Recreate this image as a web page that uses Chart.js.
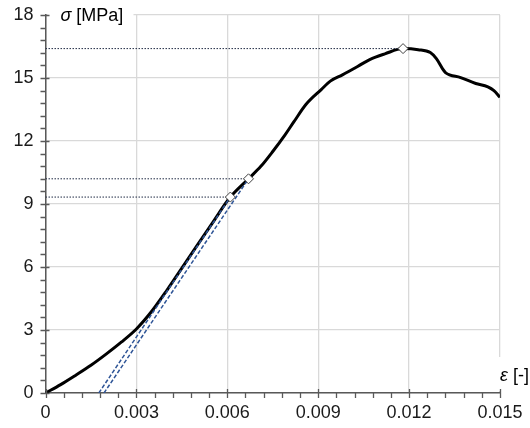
<!DOCTYPE html>
<html>
<head>
<meta charset="utf-8">
<script src="https://cdn.jsdelivr.net/npm/chart.js@4.4.4/dist/chart.umd.min.js"></script>
<style>
  html, body { margin: 0; background: #fff; }
  #wrap { width: 530px; height: 428px; }
</style>
</head>
<body>
<div id="wrap"><canvas id="chart"></canvas></div>
<script>
// ── Data ───────────────────────────────────────────────────────────────────
const strain = [0, 0.0005, 0.0010, 0.0015, 0.0020, 0.0025, 0.0030, 0.0035, 0.0040,
  0.0045, 0.0050, 0.0055, 0.0061, 0.0067, 0.0071, 0.0075, 0.0079, 0.0082, 0.0086,
  0.0091, 0.0094, 0.0098, 0.0103, 0.0107, 0.0112, 0.0118, 0.0123, 0.0127, 0.0129,
  0.0131, 0.0132, 0.0137, 0.0142, 0.0146, 0.0148, 0.0150];
const stress = [0, 0.40, 0.85, 1.32, 1.85, 2.42, 3.05, 3.88, 4.88,
  5.95, 7.02, 8.08, 9.33, 10.20, 10.78, 11.50, 12.28, 12.92, 13.75,
  14.45, 14.85, 15.15, 15.55, 15.88, 16.15, 16.40, 16.35, 16.21, 15.92,
  15.45, 15.26, 15.02, 14.74, 14.58, 14.40, 14.08];

const markStrain = [0.0061, 0.0067, 0.0118];
const markStress = [9.33, 10.2, 16.4];

// tangent lines: start on the strain axis, end at the first two markers
const tangentStart = [0.00176, 0.00193];

const xMajor = 0.003, xMinor = 0.0006, xMax = 0.015;
const yMajor = 3, yMinor = 0.6, yMax = 18;

const FONT = '"Liberation Sans", Arial, sans-serif';
const SIZE = 18;
const AXIS = '#595959';
const GRID = '#d9d9d9';
const BLUE = '#2f5597';

// ── Datasets ───────────────────────────────────────────────────────────────
const pts = (xs, ys) => xs.map((x, i) => ({ x, y: ys[i] }));

const curve = {
  data: pts(strain, stress), showLine: true, borderColor: '#000', borderWidth: 3,
  pointRadius: 0, cubicInterpolationMode: 'monotone', order: 3,
};

const tangents = tangentStart.map((s, i) => ({
  data: [{ x: s, y: 0 }, { x: markStrain[i], y: markStress[i] }],
  showLine: true, borderColor: BLUE, borderWidth: 1.5, borderDash: [4, 2],
  pointRadius: 0, order: 1,
}));

const guides = markStrain.map((s, i) => ({
  data: [{ x: 0, y: markStress[i] }, { x: s, y: markStress[i] }],
  showLine: true, borderColor: '#1f2a44', borderWidth: 1, borderDash: [1.5, 1.5],
  pointRadius: 0, order: 2,
}));

const markers = {
  data: pts(markStrain, markStress), showLine: false, pointStyle: 'rectRot',
  pointRadius: 5, backgroundColor: '#fff', borderColor: '#404040', borderWidth: 1,
  order: 0,
};

// ── Plugins ────────────────────────────────────────────────────────────────
// minor/major tick marks (majors cross the axis, minors outside only)
const tickMarks = {
  id: 'tickMarks',
  afterDraw(chart) {
    const { ctx, scales: { x, y } } = chart;
    const ax = x.getPixelForValue(0), ay = y.getPixelForValue(0);
    ctx.save();
    ctx.strokeStyle = AXIS;
    ctx.lineWidth = 1.3;
    ctx.beginPath();
    for (let i = 0; i <= Math.round(yMax / yMinor); i++) {
      const py = Math.round(y.getPixelForValue(i * yMinor)) + 0.5;
      const major = i % Math.round(yMajor / yMinor) === 0;
      ctx.moveTo(ax - 5, py);
      ctx.lineTo(major ? ax + 4 : ax, py);
    }
    for (let i = 0; i <= Math.round(xMax / xMinor); i++) {
      const px = Math.round(x.getPixelForValue(i * xMinor)) + 0.5;
      const major = i % Math.round(xMajor / xMinor) === 0;
      ctx.moveTo(px, ay + 5);
      ctx.lineTo(px, major ? ay - 4 : ay);
    }
    ctx.stroke();
    ctx.restore();
  },
};

// axis titles sitting inside the plot on a white patch
function label(ctx, sym, rest, left, cy) {
  ctx.fillStyle = '#000';
  ctx.textBaseline = 'middle';
  ctx.font = `italic ${SIZE}px ${FONT}`;
  const w1 = ctx.measureText(sym).width;
  ctx.fillText(sym, left, cy);
  ctx.font = `${SIZE}px ${FONT}`;
  ctx.fillText(rest, left + w1, cy);
}

const axisTitles = {
  id: 'axisTitles',
  beforeDatasetsDraw(chart) {
    const { ctx, scales: { x, y } } = chart;
    const ax = x.getPixelForValue(0), ay = y.getPixelForValue(0);
    const top = y.getPixelForValue(yMax), right = x.getPixelForValue(xMax);
    ctx.save();
    ctx.fillStyle = '#fff';
    ctx.fillRect(ax + 2, top - 10, 86, 20);
    ctx.fillRect(right - 6, ay - 36, 40, 34);
    label(ctx, 'σ', ' [MPa]', ax + 15, top + 1);
    label(ctx, 'ε', ' [-]', right, ay - 17);
    ctx.restore();
  },
};

// ── Chart ──────────────────────────────────────────────────────────────────
new Chart(document.getElementById('chart'), {
  type: 'scatter',
  data: { datasets: [curve, ...tangents, ...guides, markers] },
  options: {
    responsive: true,
    maintainAspectRatio: false,
    animation: false,
    devicePixelRatio: 1,
    layout: { padding: { top: 15, right: 30, left: 0, bottom: 0 } },
    plugins: { legend: { display: false }, tooltip: { enabled: false } },
    scales: {
      x: {
        type: 'linear', min: 0, max: xMax,
        afterFit: s => { s.height = 35; s.paddingRight = 0; s.paddingLeft = 0; },
        ticks: {
          stepSize: xMajor, padding: 9, color: '#1a1a1a', font: { family: FONT, size: SIZE },
          callback: v => (v === 0 ? '0' : v.toFixed(3)),
        },
        grid: { color: GRID, lineWidth: 1.3, drawTicks: false },
        border: { color: AXIS, width: 1.5 },
      },
      y: {
        type: 'linear', min: 0, max: yMax,
        afterFit: s => { s.width = 45.5; s.paddingTop = 0; s.paddingBottom = 0; },
        ticks: {
          stepSize: yMajor, padding: 12, color: '#1a1a1a', font: { family: FONT, size: SIZE },
        },
        grid: { color: GRID, lineWidth: 1.3, drawTicks: false },
        border: { color: AXIS, width: 1.5 },
      },
    },
  },
  plugins: [axisTitles, tickMarks],
});
</script>
</body>
</html>
